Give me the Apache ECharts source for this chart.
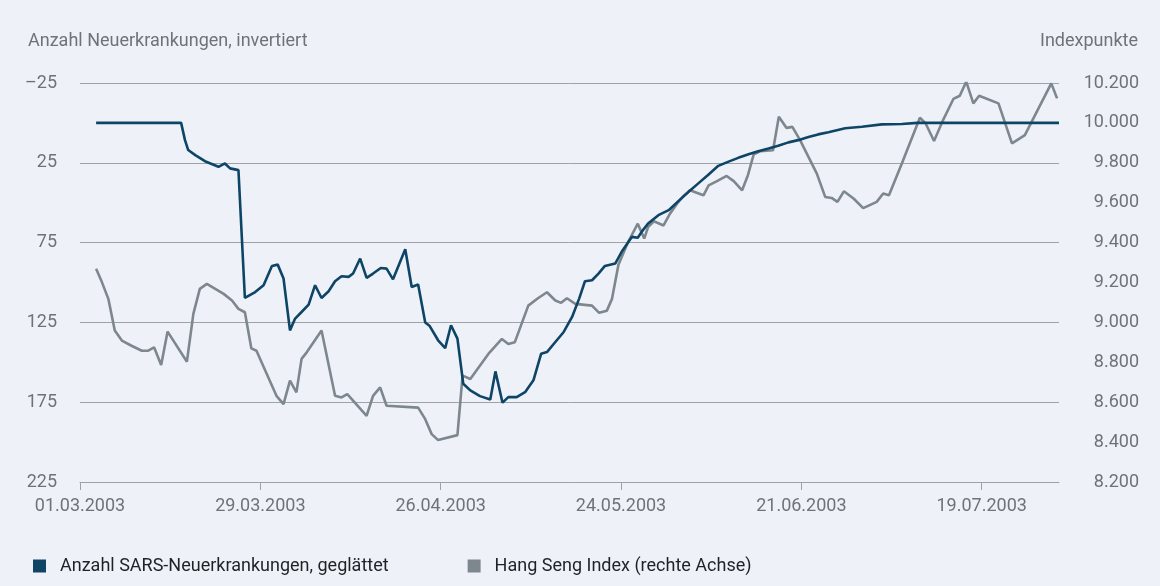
<!DOCTYPE html>
<html>
<head>
<meta charset="utf-8">
<script src="https://cdn.jsdelivr.net/npm/echarts@6/dist/echarts.min.js"></script>
<style>
html,body{margin:0;padding:0;background:#eef2f8;}
#chart{width:1160px;height:586px;}
</style>
</head>
<body>
<div id="chart"></div>
<script>
// ---- Data (x = days since 01.03.2003) ----
const tickDays = [0, 28, 56, 84, 112, 140];
const tickLabels = ['01.03.2003', '29.03.2003', '26.04.2003', '24.05.2003', '21.06.2003', '19.07.2003'];

const sarsName = 'Anzahl SARS-Neuerkrankungen, geglättet';
const hsiName = 'Hang Seng Index (rechte Achse)';
const leftAxisTitle = 'Anzahl Neuerkrankungen, invertiert';
const rightAxisTitle = 'Indexpunkte';

const sarsDays = [2.5,15.7,16.3,16.8,17.9,19.4,21.5,22.5,23.3,24.6,25.6,27.2,28.5,29.8,30.7,31.6,32.6,33.4,34.4,35.5,36.5,37.5,38.6,39.6,40.6,41.7,42.4,43.5,44.5,45.5,46.7,47.6,48.6,50.5,51.5,52.5,53.6,54.3,55.6,56.7,57.6,58.6,59.5,60.6,62.1,63.7,64.5,65.6,66.5,67.8,69.1,70.4,71.6,72.5,73.8,75.1,76.4,77.5,78.4,79.5,80.5,81.5,83.1,84.1,85.7,86.6,87.2,88.2,89.8,91.4,92.9,94.5,96,97.6,99.1,100.6,102.2,103.8,105.3,106.9,108.4,110,111.5,113.1,114.6,116.2,118.8,121.4,124.5,127.6,130,152];
const sarsValues = [0,0,10.8,17,20.2,24,27.5,25.4,28.5,29.6,109.7,106,101.7,89.6,88.8,97.5,130,122.6,118.5,113.9,101.7,109.7,105.5,99.2,96.1,96.5,94.4,85,97.1,94.4,90.9,91.3,98,79.2,102.8,101.3,125.1,127.3,136.2,141.1,126.8,135.2,163.4,167.6,171.2,173.3,155.7,175.3,171.8,171.8,168.7,161.3,144.6,143.6,137.3,131,121.6,110.1,99.2,98.6,94.4,89.6,88.1,80.8,71.4,72,68.3,63,57.8,54.7,49,43.2,37.9,32.3,26.9,24.4,21.9,19.7,17.7,16,14.3,12.2,10.8,8.9,7.2,5.9,3.4,2.4,0.9,0.7,0,0];

const hsiDays = [2.5,3.4,4.4,5.4,6.5,8,9.6,10.6,11.5,12.6,13.6,16.6,17.6,18.6,19.7,21,22.3,23.6,24.6,25.6,26.6,27.4,30.5,31.6,32.6,33.6,34.4,35.2,37.5,39.6,40.6,41.5,44.5,45.5,46.6,47.6,52.5,53.6,54.6,55.6,58.6,59.4,60.6,63.4,65.5,66.5,67.5,69.6,71.1,72.5,73.8,74.7,75.6,76.9,79.5,80.6,81.8,82.6,83.6,85.1,86.6,87.6,88.2,89.1,90.6,91.6,92.7,93.7,94.7,96.8,97.6,98.9,100.4,101.5,102.8,103.7,104.6,105.6,107.6,108.5,109.7,110.6,111.8,113.1,114.4,115.7,116.7,117.6,118.6,120.1,121.6,123.7,124.7,125.6,127.6,130.4,131.3,132.6,134,135.6,136.6,137.6,138.7,139.6,142.6,144.7,146.7,150.8,151.7];
const hsiValues = [9269,9202,9118,8959,8909,8883,8858,8858,8875,8786,8954,8803,9043,9168,9193,9168,9143,9110,9068,9051,8870,8858,8632,8590,8708,8649,8817,8850,8959,8632,8624,8641,8532,8632,8674,8582,8573,8515,8440,8410,8435,8733,8716,8842,8917,8892,8900,9084,9121,9151,9110,9098,9121,9093,9084,9048,9059,9118,9289,9403,9495,9420,9478,9507,9486,9545,9595,9634,9662,9637,9687,9708,9734,9708,9662,9738,9842,9858,9863,10031,9975,9980,9914,9830,9746,9629,9624,9604,9657,9621,9573,9604,9646,9637,9796,10026,9997,9909,10014,10120,10136,10207,10098,10136,10098,9897,9939,10198,10123];

// ---- Helpers ----
const pair = (xs, ys) => xs.map((x, i) => [x, ys[i]]);
const deNum = v => String(v).replace(/\B(?=(\d{3})+(?!\d))/g, '.');

const textGray = '#6f7377';
const lineGray = '#9ea3a8';
const font = 'Roboto, "Noto Sans", sans-serif';

const chart = echarts.init(document.getElementById('chart'));
chart.setOption({
  backgroundColor: '#eef2f8',
  animation: false,
  textStyle: { fontFamily: font },
  grid: { left: 80, right: 101, top: 83, bottom: 104 },
  graphic: [
    { type: 'text', left: 28, top: 32, style: { text: leftAxisTitle, fill: textGray, fontSize: 18, fontFamily: font } },
    { type: 'text', right: 22, top: 32, style: { text: rightAxisTitle, fill: textGray, fontSize: 18, fontFamily: font } }
  ],
  legend: {
    left: 28, top: 552,
    icon: 'rect', itemWidth: 13, itemHeight: 13, itemGap: 79,
    textStyle: { color: '#1f2224', fontSize: 18, fontFamily: font, padding: [0, 0, 0, 9] },
    data: [sarsName, hsiName]
  },
  xAxis: {
    type: 'value', min: 0, max: 152,
    axisLine: { onZero: false, lineStyle: { color: lineGray, width: 1 } },
    axisTick: { customValues: tickDays, length: 8, lineStyle: { color: lineGray } },
    axisLabel: {
      customValues: tickDays,
      formatter: v => tickLabels[tickDays.indexOf(v)] || '',
      color: textGray, fontSize: 18, margin: 15
    },
    splitLine: { show: false }
  },
  yAxis: [
    {
      type: 'value', inverse: true, min: -25, max: 225, interval: 50,
      axisLine: { show: false }, axisTick: { show: false },
      axisLabel: { formatter: v => v < 0 ? '–' + Math.abs(v) : String(v), color: textGray, fontSize: 18, margin: 23 },
      splitLine: { lineStyle: { color: lineGray, width: 1 } }
    },
    {
      type: 'value', position: 'right', min: 8200, max: 10200, interval: 200,
      axisLine: { show: false }, axisTick: { show: false }, splitLine: { show: false },
      axisLabel: { formatter: v => deNum(v), color: textGray, fontSize: 18, align: 'right', margin: 80 }
    }
  ],
  series: [
    {
      name: sarsName, type: 'line', yAxisIndex: 0, z: 3,
      data: pair(sarsDays, sarsValues), showSymbol: false,
      lineStyle: { color: '#0e4466', width: 2.6 }, itemStyle: { color: '#0e4466' }
    },
    {
      name: hsiName, type: 'line', yAxisIndex: 1, z: 2,
      data: pair(hsiDays, hsiValues), showSymbol: false,
      lineStyle: { color: '#7d878d', width: 2.6 }, itemStyle: { color: '#7d878d' }
    }
  ]
});
</script>
</body>
</html>
